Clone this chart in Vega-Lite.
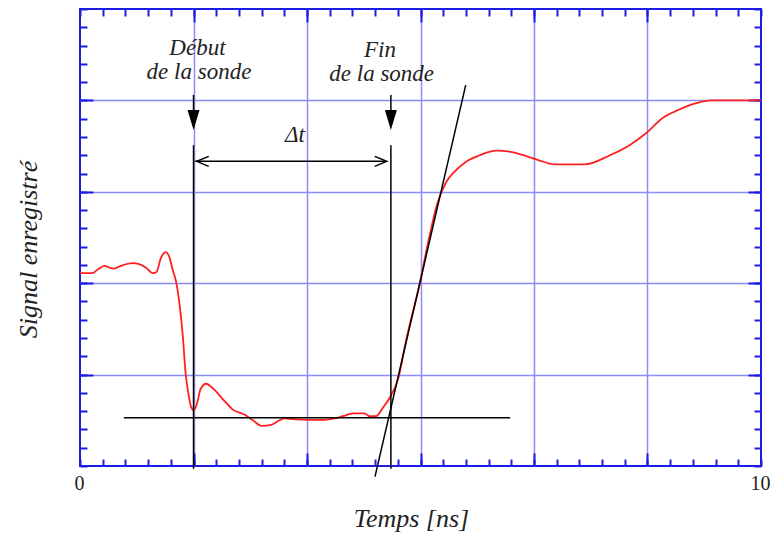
{
  "$schema": "https://vega.github.io/schema/vega-lite/v6.json",
  "width": 681,
  "height": 457,
  "autosize": {"type": "none"},
  "padding": {"left": 80, "top": 9, "right": 11, "bottom": 70},
  "background": "white",
  "config": {
    "view": {"stroke": "#1c1ce6", "strokeWidth": 2},
    "axis": {
      "domain": false,
      "tickColor": "#1c1ce6",
      "tickWidth": 2,
      "gridColor": "#8c8cf5",
      "gridWidth": 1.5,
      "gridOpacity": 1,
      "labelFont": "Liberation Serif",
      "labelFontSize": 20,
      "labelColor": "#222222",
      "labelFlush": false,
      "titleFont": "Liberation Serif",
      "titleFontStyle": "italic",
      "titleFontWeight": "normal",
      "titleFontSize": 26,
      "titleColor": "#222222"
    }
  },
  "datasets": {
    "curve": [
      {"x": 0, "y": 2.11}, {"x": 0.18, "y": 2.11}, {"x": 0.26, "y": 2.15}, {"x": 0.36, "y": 2.19},
      {"x": 0.43, "y": 2.17}, {"x": 0.5, "y": 2.16}, {"x": 0.6, "y": 2.19}, {"x": 0.77, "y": 2.22},
      {"x": 0.87, "y": 2.21}, {"x": 0.97, "y": 2.17}, {"x": 1.07, "y": 2.11}, {"x": 1.12, "y": 2.12},
      {"x": 1.19, "y": 2.28}, {"x": 1.26, "y": 2.34}, {"x": 1.31, "y": 2.29}, {"x": 1.36, "y": 2.15},
      {"x": 1.41, "y": 2.02}, {"x": 1.46, "y": 1.78}, {"x": 1.51, "y": 1.42}, {"x": 1.55, "y": 1.02},
      {"x": 1.59, "y": 0.8}, {"x": 1.63, "y": 0.65}, {"x": 1.67, "y": 0.61}, {"x": 1.72, "y": 0.69},
      {"x": 1.77, "y": 0.84}, {"x": 1.85, "y": 0.9}, {"x": 1.95, "y": 0.85}, {"x": 2.1, "y": 0.73},
      {"x": 2.24, "y": 0.62}, {"x": 2.42, "y": 0.56}, {"x": 2.54, "y": 0.5}, {"x": 2.66, "y": 0.44},
      {"x": 2.81, "y": 0.45}, {"x": 2.93, "y": 0.5}, {"x": 3.0, "y": 0.52}, {"x": 3.16, "y": 0.51},
      {"x": 3.35, "y": 0.505}, {"x": 3.59, "y": 0.505}, {"x": 3.74, "y": 0.52}, {"x": 3.86, "y": 0.545},
      {"x": 4.01, "y": 0.575}, {"x": 4.18, "y": 0.575}, {"x": 4.25, "y": 0.545}, {"x": 4.35, "y": 0.545},
      {"x": 4.45, "y": 0.64}, {"x": 4.55, "y": 0.75}, {"x": 4.67, "y": 0.95}, {"x": 4.79, "y": 1.38},
      {"x": 4.99, "y": 2.0}, {"x": 5.13, "y": 2.51}, {"x": 5.25, "y": 2.88}, {"x": 5.38, "y": 3.11},
      {"x": 5.5, "y": 3.22}, {"x": 5.67, "y": 3.33}, {"x": 5.87, "y": 3.4}, {"x": 6.11, "y": 3.45},
      {"x": 6.31, "y": 3.44}, {"x": 6.55, "y": 3.39}, {"x": 6.72, "y": 3.35}, {"x": 6.97, "y": 3.3},
      {"x": 7.41, "y": 3.3}, {"x": 7.78, "y": 3.4}, {"x": 8.07, "y": 3.51}, {"x": 8.31, "y": 3.64},
      {"x": 8.56, "y": 3.81}, {"x": 8.8, "y": 3.9}, {"x": 9.05, "y": 3.97}, {"x": 9.27, "y": 4.0},
      {"x": 10, "y": 4.0}
    ],
    "segs": [
      {"x": 1.667, "y": 3.51, "x2": 1.667, "y2": -0.03},
      {"x": 4.565, "y": 3.51, "x2": 4.565, "y2": -0.03},
      {"x": 0.643, "y": 0.527, "x2": 6.317, "y2": 0.527},
      {"x": 4.332, "y": -0.117, "x2": 5.664, "y2": 4.168},
      {"x": 1.667, "y": 4.06, "x2": 1.667, "y2": 3.78},
      {"x": 4.565, "y": 4.06, "x2": 4.565, "y2": 3.78},
      {"x": 1.69, "y": 3.333, "x2": 4.49, "y2": 3.333}
    ],
    "heads": [
      {"kind": "down", "x": 1.667, "y": 3.676},
      {"kind": "down", "x": 4.565, "y": 3.676},
      {"kind": "left", "x": 1.714, "y": 3.333},
      {"kind": "right", "x": 4.504, "y": 3.333}
    ],
    "labels": [
      {"x": 1.725, "y": 4.573, "text": "Début"},
      {"x": 1.747, "y": 4.31, "text": "de la sonde"},
      {"x": 4.405, "y": 4.55, "text": "Fin"},
      {"x": 4.43, "y": 4.29, "text": "de la sonde"},
      {"x": 3.157, "y": 3.62, "text": "Δt"}
    ]
  },
  "layer": [
    {
      "data": {"name": "curve"},
      "mark": {"type": "line", "color": "#ff1f1f", "strokeWidth": 1.8, "interpolate": "monotone"},
      "encoding": {
        "x": {
          "field": "x", "type": "quantitative",
          "scale": {"domain": [0, 10], "nice": false, "zero": false},
          "axis": {
            "orient": "bottom",
            "values": [0, 0.333333, 0.666667, 1, 1.333333, 1.666667, 2, 2.333333, 2.666667, 3, 3.333333, 3.666667, 4, 4.333333, 4.666667, 5, 5.333333, 5.666667, 6, 6.333333, 6.666667, 7, 7.333333, 7.666667, 8, 8.333333, 8.666667, 9, 9.333333, 9.666667, 10],
            "tickSize": -7,
            "labelExpr": "datum.value == 0 ? '0' : (datum.value == 10 ? '10' : '')",
            "labelPadding": 14,
            "labelOffset": -1,
            "grid": false,
            "title": "Temps [ns]",
            "titleX": 331,
            "titleY": 52,
            "titleAlign": "center",
            "titleBaseline": "middle"
          }
        },
        "y": {
          "field": "y", "type": "quantitative",
          "scale": {"domain": [0, 5], "nice": false, "zero": false},
          "axis": {
            "orient": "left",
            "values": [0, 0.2, 0.4, 0.6, 0.8, 1, 1.2, 1.4, 1.6, 1.8, 2, 2.2, 2.4, 2.6, 2.8, 3, 3.2, 3.4, 3.6, 3.8, 4, 4.2, 4.4, 4.6, 4.8, 5],
            "tickSize": -7,
            "labels": false,
            "grid": false,
            "title": "Signal enregistré",
            "titleX": -52,
            "titleY": 240,
            "titleAngle": 270,
            "titleAlign": "center",
            "titleBaseline": "middle"
          }
        }
      }
    },
    {
      "data": {"name": "segs"},
      "mark": {"type": "rule", "color": "#000000", "strokeWidth": 1.5},
      "encoding": {
        "x": {
          "field": "x", "type": "quantitative",
          "axis": {"orient": "bottom", "values": [1.666667, 3.333333, 5, 6.666667, 8.333333], "tickSize": -13, "labels": false, "grid": true, "title": null}
        },
        "y": {
          "field": "y", "type": "quantitative",
          "axis": {"orient": "left", "values": [1, 2, 3, 4], "tickSize": -13, "labels": false, "grid": true, "title": null}
        },
        "x2": {"field": "x2"},
        "y2": {"field": "y2"}
      }
    },
    {
      "data": {"name": "heads"},
      "transform": [{"filter": "datum.kind == 'down'"}],
      "mark": {"type": "point", "shape": "M-0.3,-1L0.3,-1L0,0Z", "size": 1600, "filled": true, "color": "#000000", "opacity": 1},
      "encoding": {
        "x": {
          "field": "x", "type": "quantitative",
          "axis": {"orient": "top", "values": [0, 0.333333, 0.666667, 1, 1.333333, 1.666667, 2, 2.333333, 2.666667, 3, 3.333333, 3.666667, 4, 4.333333, 4.666667, 5, 5.333333, 5.666667, 6, 6.333333, 6.666667, 7, 7.333333, 7.666667, 8, 8.333333, 8.666667, 9, 9.333333, 9.666667, 10], "tickSize": -7, "labels": false, "grid": false, "title": null}
        },
        "y": {
          "field": "y", "type": "quantitative",
          "axis": {"orient": "right", "values": [0, 0.2, 0.4, 0.6, 0.8, 1, 1.2, 1.4, 1.6, 1.8, 2, 2.2, 2.4, 2.6, 2.8, 3, 3.2, 3.4, 3.6, 3.8, 4, 4.2, 4.4, 4.6, 4.8, 5], "tickSize": -7, "labels": false, "grid": false, "title": null}
        }
      }
    },
    {
      "data": {"name": "heads"},
      "transform": [{"filter": "datum.kind == 'left'"}],
      "mark": {"type": "point", "shape": "M1,-0.42L0,0L1,0.42", "size": 576, "filled": false, "color": "#000000", "strokeWidth": 1.5, "opacity": 1},
      "encoding": {
        "x": {
          "field": "x", "type": "quantitative",
          "axis": {"orient": "top", "values": [1.666667, 3.333333, 5, 6.666667, 8.333333], "tickSize": -13, "labels": false, "grid": false, "title": null}
        },
        "y": {
          "field": "y", "type": "quantitative",
          "axis": {"orient": "right", "values": [1, 2, 3, 4], "tickSize": -13, "labels": false, "grid": false, "title": null}
        }
      }
    },
    {
      "data": {"name": "heads"},
      "transform": [{"filter": "datum.kind == 'right'"}],
      "mark": {"type": "point", "shape": "M-1,-0.42L0,0L-1,0.42", "size": 576, "filled": false, "color": "#000000", "strokeWidth": 1.5, "opacity": 1},
      "encoding": {
        "x": {"field": "x", "type": "quantitative", "axis": null},
        "y": {"field": "y", "type": "quantitative", "axis": null}
      }
    },
    {
      "data": {"name": "labels"},
      "mark": {"type": "text", "font": "Liberation Serif", "fontStyle": "italic", "fontSize": 23, "color": "#222222", "align": "center", "baseline": "middle"},
      "encoding": {
        "x": {"field": "x", "type": "quantitative", "axis": null},
        "y": {"field": "y", "type": "quantitative", "axis": null},
        "text": {"field": "text"}
      }
    }
  ],
  "resolve": {"axis": {"x": "independent", "y": "independent"}}
}
